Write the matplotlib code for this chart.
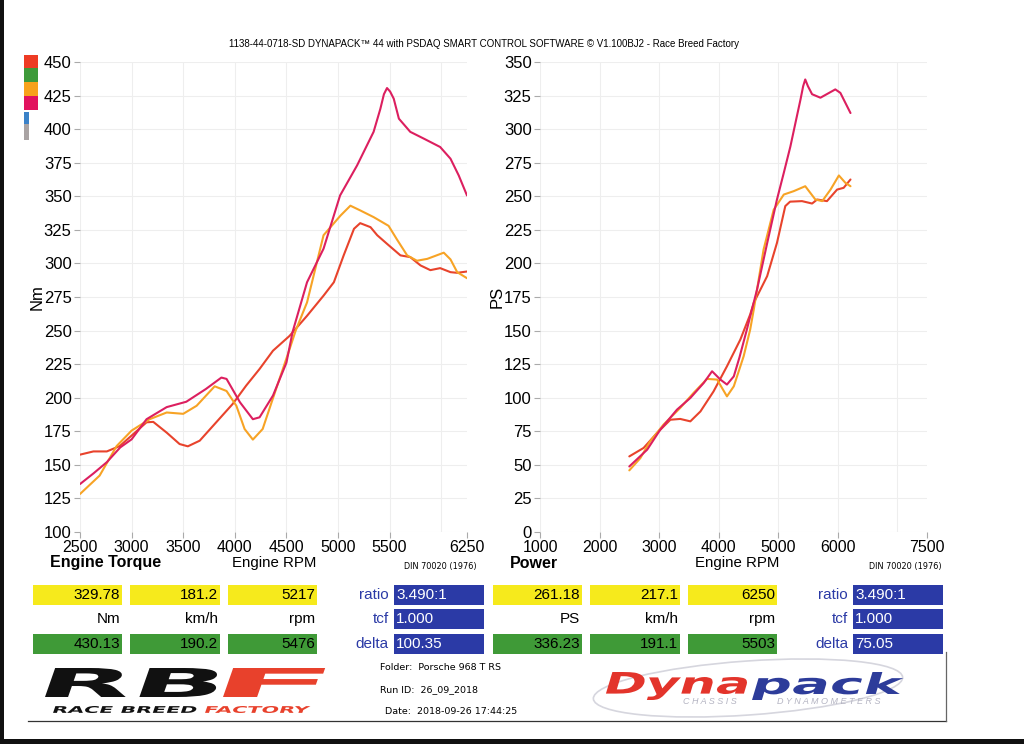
import numpy as np
import matplotlib.pyplot as plt
from matplotlib.patches import Rectangle, Ellipse, PathPatch
from matplotlib.textpath import TextPath
from matplotlib.font_manager import FontProperties
from matplotlib.transforms import Affine2D

plt.rcParams['font.family'] = ['Liberation Sans', 'DejaVu Sans']

# ---- torque (Nm) vs engine rpm ----
tq_pink_rpm = [2500, 2630, 2760, 2890, 3000, 3145, 3340, 3530, 3720, 3870, 3920, 4050, 4175, 4240,
               4370, 4500, 4560, 4700, 4860, 5020, 5185, 5345, 5410, 5445, 5475, 5505, 5540, 5590,
               5700, 5830, 5990, 6090, 6170, 6250]
tq_pink = [135.7, 143.6, 152, 163, 169, 184, 193, 197, 206.5, 215, 214, 196.6, 184, 185.4,
           201.6, 226, 249, 286, 311, 350.6, 373, 398, 415, 426, 430.6, 428, 422.7, 407.8,
           398, 393, 386.7, 378, 365.5, 350.6]

tq_orange_rpm = [2500, 2690, 2855, 3000, 3175, 3340, 3500, 3630, 3805, 3920, 4015, 4095, 4175, 4270,
                 4400, 4530, 4590, 4700, 4860, 5025, 5120, 5215, 5345, 5490, 5570, 5670, 5765, 5865,
                 6025, 6090, 6155, 6250]
tq_orange = [128.3, 142, 164, 175.5, 184, 189, 188, 194, 208.5, 205, 194, 176.7, 168.8, 176.7,
             206.5, 236, 250, 271, 321, 335.7, 343, 339.5, 334.5, 328, 318, 306, 302, 303.4,
             308, 303, 293.5, 289]

tq_red_rpm = [2500, 2630, 2760, 2885, 3000, 3145, 3210, 3340, 3465, 3545, 3660, 3820, 3980, 4110,
              4240, 4370, 4530, 4700, 4860, 4960, 5055, 5155, 5215, 5315, 5380, 5475, 5605, 5700,
              5800, 5895, 5990, 6090, 6155, 6250]
tq_red = [157.6, 160, 160, 164, 171.8, 181.7, 182, 174, 165.5, 163.8, 168, 181.7, 195.4, 209,
          221.4, 235, 246, 261, 276, 286, 306, 325.8, 330, 327, 321, 314.6, 306, 304.7,
          298.5, 295, 296.5, 293.5, 293, 294]

# ---- power (PS) vs engine rpm ----
pw_pink_rpm = [2500, 2800, 3020, 3300, 3525, 3750, 3890, 4030, 4140, 4255, 4350, 4470, 4645, 4815,
               4980, 5095, 5205, 5315, 5375, 5420, 5455, 5500, 5570, 5710, 5960, 6045, 6215]
pw_pink = [48.8, 61.3, 76.2, 91.1, 99.8, 111, 119.7, 113.5, 109.8, 115.9, 130, 150, 180.5, 215,
           247.6, 267.5, 287, 309.7, 322, 332, 337, 332, 326, 323.4, 329.6, 327, 312]

pw_orange_rpm = [2500, 2685, 2850, 3075, 3355, 3580, 3805, 3975, 4140, 4255, 4420, 4530, 4590, 4755,
                 4925, 5095, 5260, 5455, 5625, 5740, 5880, 6020, 6130, 6215]
pw_orange = [45.9, 55, 67.5, 80, 92.4, 103.6, 114, 113.5, 101, 108.5, 130.8, 150.7, 165.6, 210.3,
             240, 251.3, 253.8, 257.5, 247.6, 246.4, 255, 265.5, 260, 257.5]

pw_red_rpm = [2500, 2740, 2965, 3190, 3355, 3525, 3695, 3915, 4140, 4365, 4530, 4590, 4815, 4980,
              5120, 5200, 5400, 5570, 5655, 5820, 5990, 6100, 6215]
pw_red = [56.3, 62.6, 73.7, 83.6, 84.2, 82.4, 89.8, 104.7, 123.4, 143.3, 162, 170.6, 190.5, 215.3,
          242.7, 246, 246.4, 244.6, 247.6, 246.4, 255, 256.3, 262.5]

tq_xticks = [2500, 3000, 3500, 4000, 4500, 5000, 5500, 6250]
tq_xgrid = [2500, 3000, 3500, 4000, 4500, 5000, 5500, 6000]
tq_yticks = list(range(100, 451, 25))
pw_xticks = [1000, 2000, 3000, 4000, 5000, 6000, 7500]
pw_xgrid = [1000, 2000, 3000, 4000, 5000, 6000, 7000]
pw_yticks = list(range(0, 351, 25))

# table values
tq_yellow = ['329.78', '181.2', '5217']
tq_units = ['Nm', 'km/h', 'rpm']
tq_green = ['430.13', '190.2', '5476']
tq_blue = ['3.490:1', '1.000', '100.35']
pw_yellow = ['261.18', '217.1', '6250']
pw_units = ['PS', 'km/h', 'rpm']
pw_green = ['336.23', '191.1', '5503']
pw_blue = ['3.490:1', '1.000', '75.05']
blue_labels = ['ratio', 'tcf', 'delta']

PINK = '#dc1f5f'
ORANGE = '#f7a325'
RED = '#e8432c'
YELLOW = '#f6ea1c'
GREEN = '#3f9a37'
BLUE = '#2b3aa6'

fig = plt.figure(figsize=(10.24, 7.44), dpi=100)
fig.patch.set_facecolor('white')

# overlay in pixel coordinates for all the sheet decorations
deco = fig.add_axes([0, 0, 1, 1], zorder=0)
deco.set_xlim(0, 1024)
deco.set_ylim(744, 0)
deco.axis('off')


def fpos(x0, y0, x1, y1):
    return [x0 / 1024, 1 - y1 / 744, (x1 - x0) / 1024, (y1 - y0) / 744]


ax1 = fig.add_axes(fpos(80, 62, 467, 532), zorder=1)
ax2 = fig.add_axes(fpos(540, 62, 927, 532), zorder=1)


def style(ax, xlim, ylim, xticks, xgrid, yticks):
    ax.set_facecolor('none')
    ax.set_xlim(xlim)
    ax.set_ylim(ylim)
    ax.set_xticks(xticks)
    ax.set_yticks(yticks)
    for s in ax.spines.values():
        s.set_visible(False)
    ax.tick_params(axis='y', length=4, width=0.8, color='#aaaaaa', labelsize=12, pad=2)
    ax.tick_params(axis='x', length=4, width=0.8, color='#aaaaaa', labelsize=11.5, pad=2)
    for g in xgrid:
        ax.axvline(g, color='#eeeeee', lw=0.8, zorder=0)
    for g in yticks:
        ax.axhline(g, color='#eeeeee', lw=0.8, zorder=0)


style(ax1, (2500, 6250), (100, 450), tq_xticks, tq_xgrid, tq_yticks)
style(ax2, (1000, 7500), (0, 350), pw_xticks, pw_xgrid, pw_yticks)

kw = dict(lw=1.5, solid_joinstyle='round', solid_capstyle='round')
ax1.plot(tq_red_rpm, tq_red, color=RED, **kw)
ax1.plot(tq_orange_rpm, tq_orange, color=ORANGE, **kw)
ax1.plot(tq_pink_rpm, tq_pink, color=PINK, **kw)
ax2.plot(pw_red_rpm, pw_red, color=RED, **kw)
ax2.plot(pw_orange_rpm, pw_orange, color=ORANGE, **kw)
ax2.plot(pw_pink_rpm, pw_pink, color=PINK, **kw)

ax1.set_ylabel('Nm', fontsize=12, labelpad=-1)
ax2.set_ylabel('PS', fontsize=12, labelpad=-1)

# title
deco.text(484, 44, '1138-44-0718-SD DYNAPACK\u2122 44 with PSDAQ SMART CONTROL SOFTWARE \u00a9 V1.100BJ2 - Race Breed Factory',
          ha='center', va='center', fontsize=7.0)

# colour swatches on the left
for (y0, y1, c, w) in [(55, 68, '#ee3b24', 14), (68, 82, '#3e9a3a', 14), (82, 96, '#f8a21c', 14),
                       (96, 110, '#e2135f', 14), (112, 124, '#3b82c8', 5), (124, 140, '#a9a3a3', 5)]:
    deco.add_patch(Rectangle((24, y0), w, y1 - y0, color=c, lw=0))

# captions below the charts
deco.text(50, 563, 'Engine Torque', fontsize=11.5, weight='bold', va='center')
deco.text(274, 563, 'Engine RPM', fontsize=10.8, ha='center', va='center')
deco.text(440, 566, 'DIN 70020 (1976)', fontsize=5.9, ha='center', va='center', family='Liberation Sans Narrow')
deco.text(510, 563, 'Power', fontsize=11.5, weight='bold', va='center')
deco.text(737, 563, 'Engine RPM', fontsize=10.8, ha='center', va='center')
deco.text(905, 566, 'DIN 70020 (1976)', fontsize=5.9, ha='center', va='center', family='Liberation Sans Narrow')


def table(cols, yellow, units, green, lab_x, blue_x, blue):
    for (x0, x1), yv, un, gv in zip(cols, yellow, units, green):
        deco.add_patch(Rectangle((x0, 585), x1 - x0, 20, color=YELLOW, lw=0))
        deco.text(x1 - 2, 595, yv, ha='right', va='center', fontsize=11)
        deco.text(x1 - 2, 619, un, ha='right', va='center', fontsize=11)
        deco.add_patch(Rectangle((x0, 634), x1 - x0, 20, color=GREEN, lw=0))
        deco.text(x1 - 2, 644, gv, ha='right', va='center', fontsize=11)
    for y, lab, bv in zip([595, 619, 644], blue_labels, blue):
        deco.text(lab_x, y, lab, ha='right', va='center', fontsize=11, color=BLUE)
        deco.add_patch(Rectangle((blue_x, y - 10), 90, 20, color=BLUE, lw=0))
        deco.text(blue_x + 2, y, bv, ha='left', va='center', fontsize=11, color='white')


table([(33, 122), (130, 220), (228, 317)], tq_yellow, tq_units, tq_green, 389, 394, tq_blue)
table([(493, 582), (590, 680), (688, 777)], pw_yellow, pw_units, pw_green, 848, 853, pw_blue)


def logo_text(s, x, y, w, h, color, weight='bold', skew=0.35):
    tp = TextPath((0, 0), s, size=1, prop=FontProperties(family='DejaVu Sans', weight=weight))
    ext = tp.get_extents()
    tr = (Affine2D().translate(-ext.x0, -ext.y0)
          .scale(w / ext.width, h / ext.height)
          .skew(np.arctan(skew), 0)
          .scale(1, -1)
          .translate(x, y))
    deco.add_patch(PathPatch(tr.transform_path(tp), color=color, lw=0))


# RBF logo
logo_text('RB', 45, 697, 168, 29, '#111111')
logo_text('F', 223, 697, 92, 29, '#e8412c')
logo_text('RACE BREED', 53, 713, 142, 7, '#111111')
logo_text('FACTORY', 205, 713, 103, 7, '#e8412c')
deco.text(380, 668, 'Folder:  Porsche 968 T RS', fontsize=6.8, family='Liberation Sans Narrow', va='center')
deco.text(380, 690, 'Run ID:  26_09_2018', fontsize=6.8, family='Liberation Sans Narrow', va='center')
deco.text(385, 712, 'Date:  2018-09-26 17:44:25', fontsize=6.8, family='Liberation Sans Narrow', va='center')

# Dynapack logo
deco.add_patch(Ellipse((748, 688), 310, 54, angle=-4, fill=False, ec='#d6d6de', lw=1.2))
logo_text('Dyna', 604, 700, 138, 28, '#e3342b', skew=0.3)
logo_text('pack', 752, 700, 146, 28, '#2d3c9a', skew=0.3)
deco.text(683, 702, 'C H A S S I S', fontsize=6.5, color='#b4b4c2', style='italic', va='center')
deco.text(777, 702, 'D Y N A M O M E T E R S', fontsize=6.5, color='#b4b4c2', style='italic', va='center')

# sheet frame lines and scan edges
deco.plot([28, 946], [721, 721], color='#333333', lw=0.9)
deco.plot([946, 946], [652, 721], color='#666666', lw=0.9)
deco.add_patch(Rectangle((0, 0), 4, 744, color='#111111', lw=0))
deco.add_patch(Rectangle((0, 739), 1024, 5, color='#111111', lw=0))

fig.savefig('out.png', dpi=100)
